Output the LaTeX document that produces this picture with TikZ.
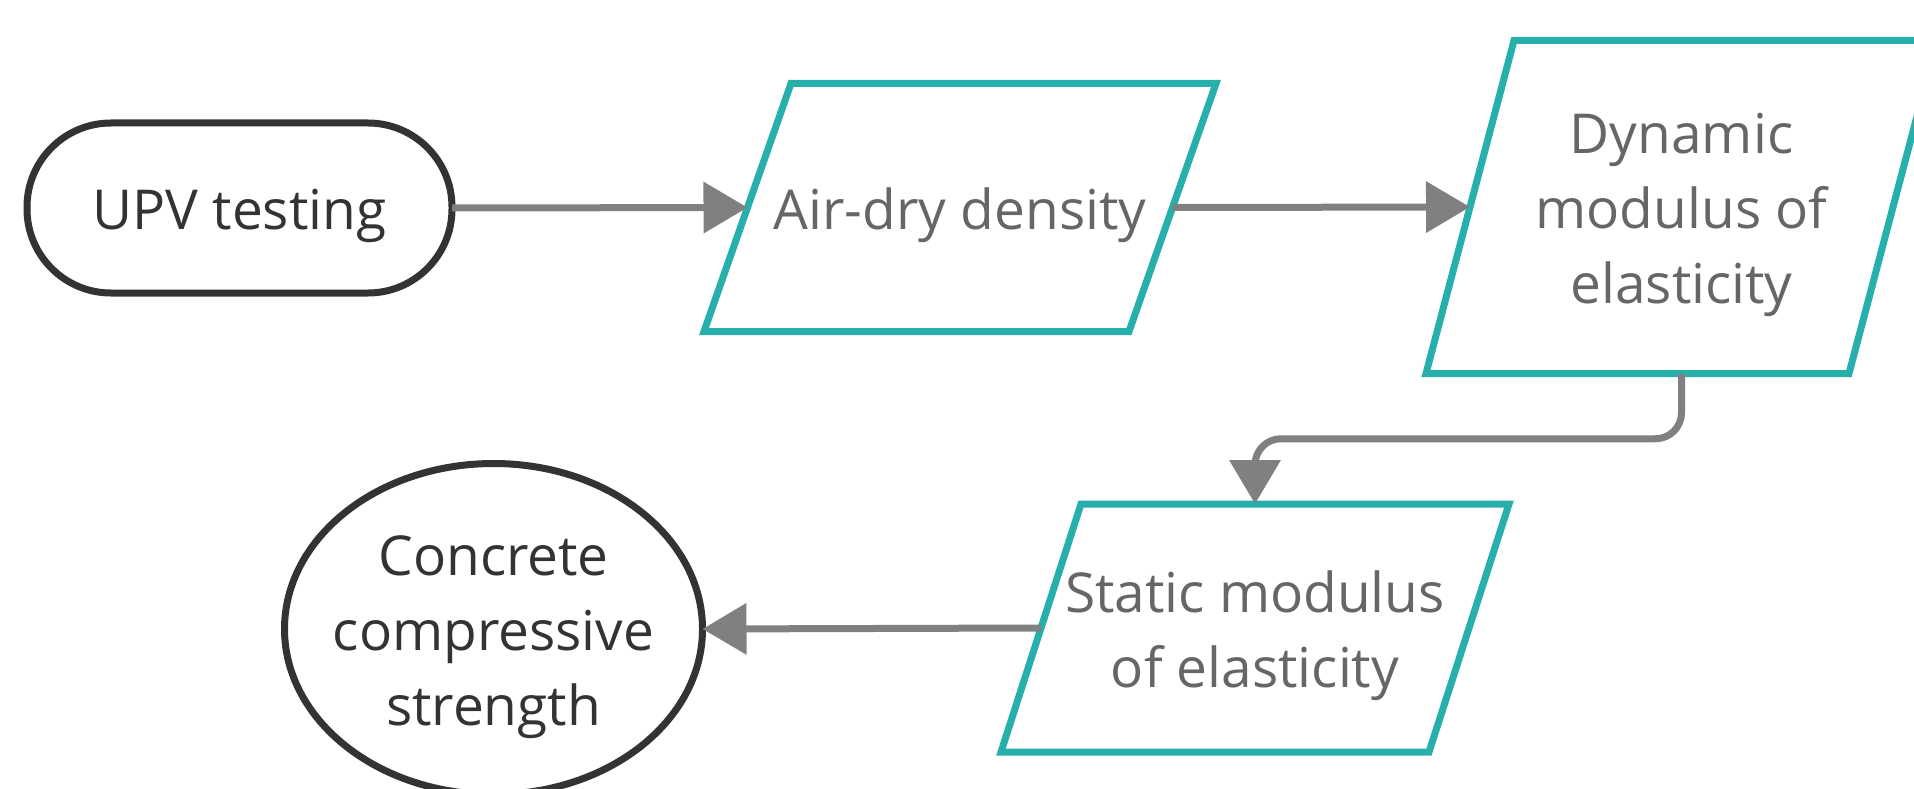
\documentclass[tikz,border=0pt]{standalone}
\usepackage{fontspec}
\setmainfont{Open Sans}
\usetikzlibrary{arrows.meta,calc}
\definecolor{tealline}{HTML}{26AFAB}
\definecolor{darkline}{HTML}{333333}
\definecolor{connline}{HTML}{808080}
\definecolor{softtext}{HTML}{666666}

% outline of a slanted data box around a rectangular node
\newcommand\slantoutline[2]{%
  \draw[tealbox] ([xshift=#2/2]#1.north west) -- ([xshift=#2/2]#1.north east)
    -- ([xshift=-#2/2]#1.south east) -- ([xshift=-#2/2]#1.south west) -- cycle;}

\begin{document}
\begin{tikzpicture}[x=1pt,y=-1pt,
  box/.style={inner sep=0pt, outer sep=0pt},
  txt/.style={font=\fontsize{55}{75}\selectfont, align=center, inner sep=0pt, yshift=-8pt},
  terminal/.style={box, draw=darkline, line width=7pt, rounded corners=84pt,
    minimum width=425pt, minimum height=170pt},
  databox/.style={box},
  tealbox/.style={draw=tealline, line width=7pt, line join=miter},
  endline/.style={draw=darkline, line width=7pt},
  flow/.style={draw=connline, line width=7pt, -{Triangle[length=44pt,width=50pt]}}
]
\useasboundingbox (0,0) rectangle (1914,789);
\clip (0,0) rectangle (1914,789);

% shapes
\node[terminal, label={[txt, text=darkline]center:UPV testing}] (upv) at (239.5,208) {};
\node[databox, minimum width=425pt, minimum height=248pt,
  label={[txt, text=softtext]center:Air-dry density}] (air) at (960,207.5) {};
\node[databox, minimum width=423pt, minimum height=333pt,
  label={[txt, text=softtext]center:{Dynamic\\modulus of\\elasticity}}] (dyn) at (1681.5,207) {};
\node[databox, minimum width=428pt, minimum height=248pt,
  label={[txt, text=softtext]center:{Static modulus\\of elasticity}}] (stat) at (1255,628) {};
\node[box, minimum width=418pt, minimum height=331pt,
  label={[txt, text=darkline]center:{Concrete\\compressive\\strength}}] (conc) at (493.5,629) {};

\slantoutline{air}{87}
\slantoutline{dyn}{88}
\slantoutline{stat}{80}
\draw[endline] (conc.center) ellipse [x radius=209pt, y radius=165.5pt];

% connectors
\coordinate (bend) at ($(dyn.south)!0.5!(stat.north)$);
\draw[flow] (upv.east) -- (air.west);
\draw[flow] (air.east) -- (dyn.west);
\draw[flow, rounded corners=26pt] (dyn.south) -- (dyn.south |- bend) -- (stat.north |- bend) -- (stat.north);
\draw[flow] (stat.west) -- (conc.east);
\end{tikzpicture}
\end{document}
